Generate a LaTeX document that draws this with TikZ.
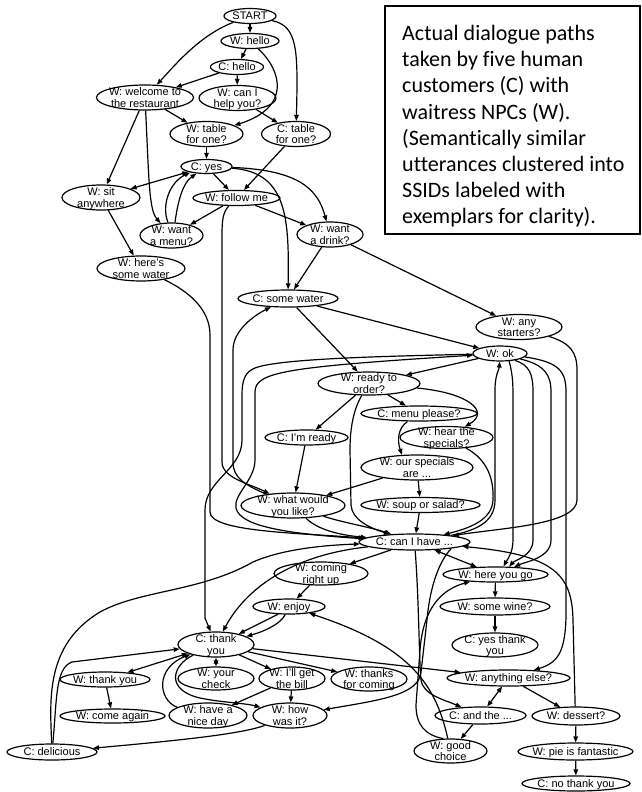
\documentclass[tikz,border=0pt]{standalone}
\usepackage{fontspec}
\setmainfont{Liberation Sans}
\newfontfamily\capfont[Ligatures=NoCommon]{Carlito}
\usetikzlibrary{shapes.geometric,arrows.meta}
\newcommand\zt[1]{\makebox[0pt]{\raisebox{-0.4em}[0pt][0pt]{\begin{tabular}{@{}c@{}}#1\end{tabular}}}}
\tikzset{
 st/.style={ellipse, draw, line width=1.2pt, inner sep=0pt, font=\fontsize{11}{11.3}\selectfont},
 one/.style={st, minimum height=15pt},
 two/.style={st, minimum height=25pt},
 e/.style={line width=1.2pt, -{Triangle[length=6pt,width=4.5pt]}},
 e2/.style={line width=1.2pt, {Triangle[length=6pt,width=4.5pt]}-{Triangle[length=6pt,width=4.5pt]}},
}
\begin{document}
\begin{tikzpicture}[x=1pt,y=-1pt]
\useasboundingbox (0,0) rectangle (642,792);
% caption box
\draw[line width=2.4pt] (385,6) rectangle (640,234);
\node[anchor=north west, align=left, inner sep=0pt, font=\capfont\fontsize{22}{26.2}\selectfont] (caption) at (402,25) {Actual dialogue paths\\taken by five human\\customers (C) with\\waitress NPCs (W).\\(Semantically similar\\utterances clustered into\\SSIDs labeled with\\exemplars for clarity).};
% nodes
\node[one, minimum width=52pt] (start) at (250,16) {\zt{START}};
\node[one, minimum width=58pt] (whello) at (250,41) {\zt{W: hello}};
\node[one, minimum width=53pt] (chello) at (237,67) {\zt{C: hello}};
\node[two, minimum width=97pt] (wwelcome) at (145,97.5) {\zt{W: welcome to\\the restaurant}};
\node[two, minimum width=77pt] (wcanI) at (237.5,98) {\zt{W: can I\\help you?}};
\node[two, minimum width=73pt] (wtable) at (206.5,134) {\zt{W: table\\for one?}};
\node[two, minimum width=69pt] (ctable) at (296,134) {\zt{C: table\\for one?}};
\node[one, minimum width=51pt, minimum height=14pt] (cyes) at (206.5,166.5) {\zt{C: yes}};
\node[two, minimum width=78pt] (wsit) at (101,197.5) {\zt{W: sit\\anywhere}};
\node[one, minimum width=87pt] (wfollow) at (236.5,198) {\zt{W: follow me}};
\node[two, minimum width=63pt] (wmenu) at (171.5,235.5) {\zt{W: want\\a menu?}};
\node[two, minimum width=66pt] (wdrink) at (330,234.5) {\zt{W: want\\a drink?}};
\node[two, minimum width=88pt] (wwater) at (141,268.5) {\zt{W: here's\\some water}};
\node[one, minimum width=100pt, minimum height=17pt] (cwater) at (288,298.5) {\zt{C: some water}};
\node[two, minimum width=86pt] (wstarters) at (519,327) {\zt{W: any\\starters?}};
\node[one, minimum width=54pt] (wok) at (500,353.5) {\zt{W: ok}};
\node[two, minimum width=102pt, minimum height=23pt] (wready) at (369,383.5) {\zt{W: ready to\\order?}};
\node[one, minimum width=116pt] (cmenu) at (419,413.5) {\zt{C: menu please?}};
\node[two, minimum width=93pt, minimum height=22pt] (whear) at (446.5,437.5) {\zt{W: hear the\\specials?}};
\node[one, minimum width=83pt] (cready) at (306.5,437.5) {\zt{C: I'm ready}};
\node[two, minimum width=112pt] (wspecials) at (417,467.5) {\zt{W: our specials\\are ...}};
\node[two, minimum width=104pt] (wwhat) at (293,505.5) {\zt{W: what would\\you like?}};
\node[one, minimum width=119pt] (wsoup) at (420.5,505) {\zt{W: soup or salad?}};
\node[one, minimum width=111pt, minimum height=16pt] (ccan) at (414.5,542) {\zt{C: can I have ...}};
\node[two, minimum width=94pt, minimum height=23pt] (wcoming) at (321,573.5) {\zt{W: coming\\right up}};
\node[one, minimum width=105pt] (where) at (495.5,574.5) {\zt{W: here you go}};
\node[one, minimum width=72pt] (wenjoy) at (289,606.5) {\zt{W: enjoy}};
\node[one, minimum width=110pt, minimum height=17pt] (wwine) at (495,606.5) {\zt{W: some wine?}};
\node[two, minimum width=86pt, minimum height=24pt] (cyesthank) at (495,645) {\zt{C: yes thank\\you}};
\node[one, minimum width=123pt, minimum height=16pt] (wanything) at (508.5,678) {\zt{W: anything else?}};
\node[one, minimum width=91pt, minimum height=17pt] (cand) at (480.5,715.5) {\zt{C: and the ...}};
\node[one, minimum width=88pt, minimum height=18pt] (wdessert) at (576,716) {\zt{W: dessert?}};
\node[two, minimum width=73pt, minimum height=24pt] (wgood) at (450.5,751) {\zt{W: good\\choice}};
\node[one, minimum width=115pt, minimum height=17pt] (wpie) at (575.5,751.5) {\zt{W: pie is fantastic}};
\node[one, minimum width=108pt] (cno) at (576,783.5) {\zt{C: no thank you}};
\node[two, minimum width=76pt] (cthank) at (216,644.5) {\zt{C: thank\\you}};
\node[one, minimum width=90pt] (wthank) at (105,679.5) {\zt{W: thank you}};
\node[two, minimum width=76pt, minimum height=23pt] (wcheck) at (216,678.5) {\zt{W: your\\check}};
\node[two, minimum width=66pt, minimum height=23pt] (wbill) at (292,678.5) {\zt{W: I'll get\\the bill}};
\node[two, minimum width=76pt, minimum height=24pt] (wthanks) at (369,679) {\zt{W: thanks\\for coming}};
\node[one, minimum width=105pt, minimum height=14pt] (wagain) at (112.5,716) {\zt{W: come again}};
\node[two, minimum width=78pt] (wnice) at (208,715.5) {\zt{W: have a\\nice day}};
\node[two, minimum width=74pt] (whow) at (290,715.5) {\zt{W: how\\was it?}};
\node[one, minimum width=90pt, minimum height=16pt] (cdel) at (52,752) {\zt{C: delicious}};
% edges
\draw[e] (start) -- (whello);
\draw[e] (start) .. controls (200,35) and (175,65) .. (wwelcome);
\draw[e] (start) .. controls (298,26) and (298,50) .. (ctable);
\draw[e] (whello) -- (chello);
\draw[e] (whello) .. controls (283,72) and (290,108) .. (wtable);
\draw[e] (chello) -- (wwelcome);
\draw[e] (chello) -- (wcanI);
\draw[e] (wwelcome) -- (wtable);
\draw[e] (wcanI) -- (ctable);
\draw[e] (wwelcome) -- (wsit);
\draw[e] (wwelcome) .. controls (149,180) and (149,210) .. (wmenu);
\draw[e] (wtable) -- (cyes);
\draw[e] (ctable) -- (wfollow);
\draw[e2] (cyes) -- (wsit);
\draw[e] (wmenu.105) .. controls (161,205) and (170,182) .. (cyes.200);
\draw[e] (wmenu.75) .. controls (178,200) and (183,183) .. (cyes.215);
\draw[e] (cyes) -- (wfollow);
\draw[e] (cyes) .. controls (288,172) and (289,220) .. (cwater);
\draw[e] (cyes) .. controls (300,170) and (318,190) .. (wdrink);
\draw[e] (wfollow) -- (wmenu);
\draw[e] (wfollow) -- (wdrink);
\draw[e] (wfollow) .. controls (223,212) and (222,220) .. (222,235) -- (222,462) .. controls (222,478) and (250,484) .. (wwhat);
\draw[e] (wwhat) .. controls (245,485) and (233,478) .. (233,462) -- (233,350) .. controls (233,330) and (255,315) .. (cwater);
\draw[e] (wdrink) -- (cwater);
\draw[e] (wdrink) -- (wstarters);
\draw[e] (wwater) .. controls (190,292) and (210,310) .. (210,335) -- (210,512) .. controls (210,532) and (300,533) .. (ccan);
\draw[e] (wsit) -- (wwater);
\draw[e] (cwater) -- (wready);
\draw[e] (cwater) -- (wok);
\draw[e] (wstarters) .. controls (570,343) and (577,352) .. (577,370) -- (577,500) .. controls (577,525) and (500,528) .. (ccan);
\draw[e] (wok) -- (wready);
\draw[e] (wok) .. controls (400,356) and (280,358) .. (255,368) .. controls (245,372) and (242,380) .. (242,395) -- (242,440) .. controls (242,470) and (205,480) .. (205,510) -- (205,618) -- (cthank);
\draw[e] (ccan) .. controls (290,534) and (240,527) .. (236,508) .. controls (233,495) and (255,480) .. (255,460) -- (255,392) .. controls (255,372) and (285,367) .. (wok);
\draw[e] (wready) -- (cready);
\draw[e] (wready) -- (cmenu);
\draw[e] (wready) .. controls (470,393) and (490,412) .. (whear);
\draw[e] (wready) .. controls (353,410) and (350,430) .. (350,450) -- (351,505) .. controls (352,520) and (370,528) .. (ccan);
\draw[e] (cmenu) .. controls (398,428) and (397,440) .. (wspecials.140);
\draw[e] (whear) .. controls (488,460) and (494,480) .. (493,500) .. controls (492,520) and (470,528) .. (ccan);
\draw[e] (cready) -- (wwhat);
\draw[e] (wspecials) -- (wwhat);
\draw[e] (wspecials) -- (wsoup);
\draw[e] (wsoup) -- (ccan);
\draw[e] (wwhat) .. controls (318,530) and (340,535) .. (ccan);
\draw[e] (wwhat) .. controls (340,522) and (370,527) .. (ccan);
\draw[e] (ccan) .. controls (480,530) and (495,520) .. (495,500) -- (495,390) .. controls (495,375) and (499,370) .. (wok.-92);
\draw[e] (ccan) -- (wcoming);
\draw[e2] (ccan) -- (where);
\draw[e] (ccan) .. controls (290,555) and (245,590) .. (cthank);
\draw[e] (cdel) .. controls (50,700) and (45,645) .. (100,612) .. controls (140,590) and (200,592) .. (253,562) .. controls (285,548) and (330,545) .. (ccan);
\draw[e] (cdel) .. controls (57,700) and (55,668) .. (72,662) -- (cthank);
\draw[e2] (cthank) -- (wthank);
\draw[e] (wthank) -- (wagain);
\draw[e2] (cthank) -- (wcheck);
\draw[e] (cthank) -- (wbill);
\draw[e] (cthank) -- (wthanks);
\draw[e] (cthank) .. controls (172,665) and (165,690) .. (200,698) .. controls (225,703) and (245,703) .. (whow);
\draw[e] (wnice.165) .. controls (158,700) and (155,668) .. (cthank);
\draw[e] (wbill) -- (wnice);
\draw[e] (wbill) -- (whow);
\draw[e] (whow) .. controls (240,735) and (160,742) .. (cdel);
\draw[e] (wenjoy.215) -- (cthank.25);
\draw[e] (wenjoy.245) .. controls (280,625) and (262,632) .. (cthank.15);
\draw[e] (wcoming) -- (wenjoy);
\draw[e] (wgood) .. controls (435,680) and (405,645) .. (wenjoy);
\draw[e] (ccan.-10) .. controls (440,560) and (430,585) .. (427,620) -- (421,672) .. controls (419,695) and (380,700) .. (whow);
\draw[e] (wgood.120) .. controls (425,735) and (416,725) .. (416,705) -- (420,650) .. controls (423,610) and (440,590) .. (where);
\draw[e] (ccan) .. controls (419,600) and (419,660) .. (421,680) .. controls (423,695) and (445,700) .. (cand);
\draw[e] (where) -- (wwine);
\draw[e] (wwine) -- (cyesthank);
\draw[e] (wok.-40) .. controls (512,372) and (513,380) .. (513,395) -- (513,540) .. controls (513,553) and (507,560) .. (where.45);
\draw[e] (wok.-25) .. controls (530,365) and (533,375) .. (533,392) -- (533,540) .. controls (533,556) and (515,560) .. (where.30);
\draw[e] (wok.-15) .. controls (545,365) and (551,375) .. (551,392) -- (551,540) .. controls (551,558) and (525,562) .. (where.22);
\draw[e] (wok.-8) .. controls (560,362) and (566,372) .. (566,392) -- (566,600) .. controls (567,650) and (560,662) .. (wanything);
\draw[e] (wdessert.95) -- (573,620) .. controls (572,575) and (555,555) .. (ccan);
\draw[e2] (wanything) -- (cand);
\draw[e] (wanything) -- (wdessert);
\draw[e] (cand) -- (wgood);
\draw[e] (wdessert) -- (wpie);
\draw[e] (wpie) -- (cno);
\draw[e] (cthank) -- (wanything);
\end{tikzpicture}
\end{document}
